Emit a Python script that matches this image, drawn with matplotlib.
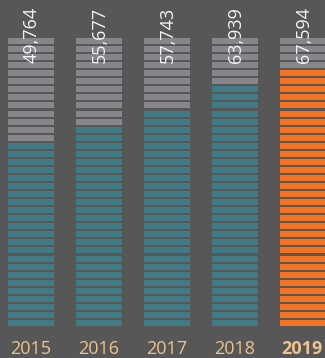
import matplotlib
matplotlib.use("Agg")
import matplotlib.pyplot as plt
import matplotlib.transforms as mtransforms

years = ["2015", "2016", "2017", "2018", "2019"]
values = [49764, 55677, 57743, 63939, 67594]
value_labels = ["49,764", "55,677", "57,743", "63,939", "67,594"]
filled_rows = [23, 25, 27, 30, 32]
total_rows = 36

BG = "#575757"
EMPTY = "#87878b"
TEAL = "#3f7a85"
ORANGE = "#f47322"
YEAR_COLOR = "#eec38f"

W, H = 325, 358
fig = plt.figure(figsize=(W / 100, H / 100), dpi=100, facecolor=BG)
ax = fig.add_axes([0, 0, 1, 1], facecolor=BG)

col_pitch = 68.0
col_w = 46.0 / col_pitch
row_pitch = 8.057
stripe_h = 6.0 / row_pitch
x0 = 31.0 / col_pitch
y0 = 32.0 / row_pitch

for i, (yr, n) in enumerate(zip(years, filled_rows)):
    fill = ORANGE if i == len(years) - 1 else TEAL
    rows = list(range(total_rows))
    colors = [fill if r < n else EMPTY for r in rows]
    ax.bar([i] * total_rows, [stripe_h] * total_rows, bottom=rows, width=col_w,
           color=colors, linewidth=0)

ax.set_xlim(-x0, W / col_pitch - x0)
ax.set_ylim(-y0, H / row_pitch - y0)
ax.axis("off")

trans = mtransforms.blended_transform_factory(ax.transData, ax.transAxes)
for i, (yr, lab) in enumerate(zip(years, value_labels)):
    ax.text(i + 0.01, (H - 63) / H, lab, rotation=90, ha="center", va="bottom",
            color="#f4f4f4", fontsize=13, family="Open Sans", transform=trans)
    ax.text(i - 0.01, 4.0 / H, yr, ha="center", va="baseline", color=YEAR_COLOR,
            fontsize=13, family="Open Sans",
            fontweight="bold" if i == len(years) - 1 else "normal",
            transform=trans)

fig.savefig("out.png", dpi=100, facecolor=BG)
